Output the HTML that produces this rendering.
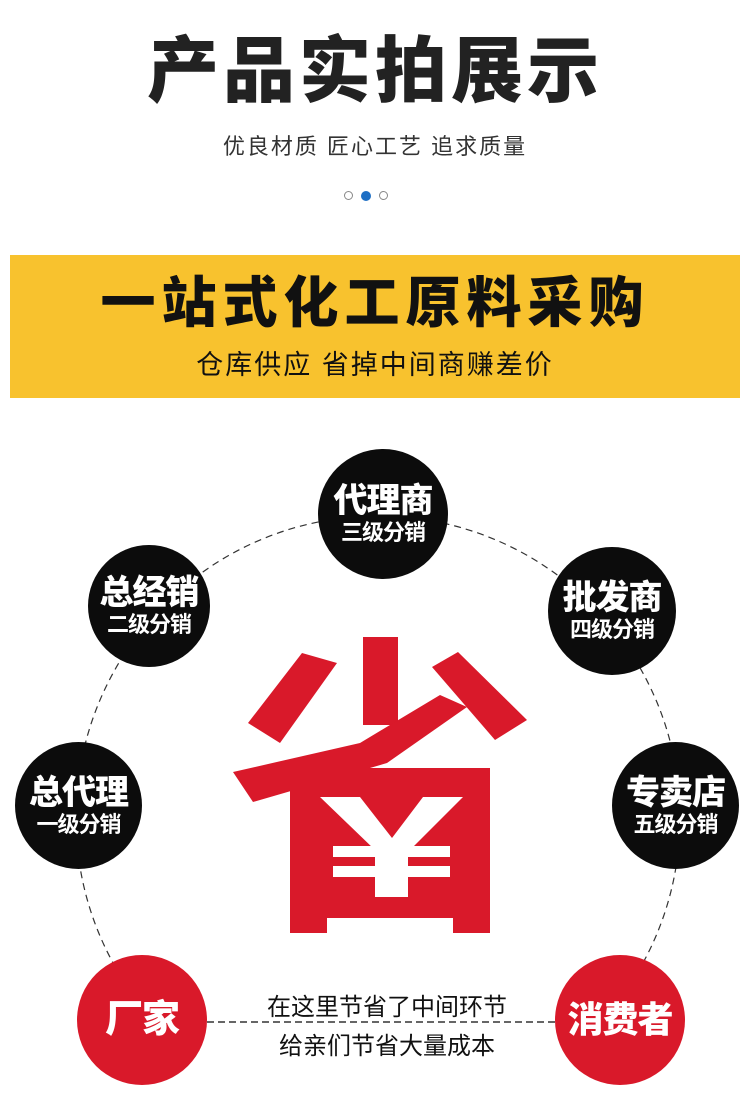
<!DOCTYPE html>
<html><head><meta charset="utf-8"><style>
html,body{margin:0;padding:0;background:#fff;}
body{width:750px;height:1100px;position:relative;overflow:hidden;font-family:"Liberation Sans","Noto Sans CJK SC",sans-serif;}
.a{position:absolute;left:0;width:750px;text-align:center;white-space:nowrap;}
.c{position:absolute;border-radius:50%;color:#fff;text-align:center;display:flex;flex-direction:column;justify-content:center;align-items:center;font-weight:900;}
.c b{font-size:34px;line-height:38px;letter-spacing:-1px;}
.c span{font-size:22px;line-height:26px;font-weight:700;letter-spacing:-1px;}
.k{background:#0c0c0c;}
.r{background:#d9192a;}
</style></head><body>
<div class="a" style="top:26px;font-size:72px;font-weight:900;line-height:92px;letter-spacing:4px;color:#222;">产品实拍展示</div>
<div class="a" style="top:132px;font-size:22px;line-height:30px;letter-spacing:2px;color:#333;">优良材质 匠心工艺 追求质量</div>
<div style="position:absolute;top:191px;left:344px;width:9px;height:9px;border:1px solid #888;border-radius:50%;box-sizing:border-box;"></div>
<div style="position:absolute;top:191px;left:361px;width:10px;height:10px;background:#1e6fc4;border-radius:50%;"></div>
<div style="position:absolute;top:191px;left:379px;width:9px;height:9px;border:1px solid #888;border-radius:50%;box-sizing:border-box;"></div>
<div style="position:absolute;top:255px;left:10px;width:730px;height:143px;background:#f8c22e;"></div>
<div class="a" style="top:268px;font-size:55px;font-weight:900;line-height:70px;letter-spacing:6px;color:#111;">一站式化工原料采购</div>
<div class="a" style="top:346px;font-size:27px;line-height:38px;letter-spacing:2px;color:#111;">仓库供应 省掉中间商赚差价</div>
<svg style="position:absolute;left:0;top:0" width="750" height="1100">
<defs><clipPath id="cp"><rect x="0" y="0" width="750" height="990"/></clipPath></defs>
<circle cx="378" cy="818" r="302" fill="none" stroke="#333" stroke-width="1.2" stroke-dasharray="7,5" clip-path="url(#cp)"/>
<line x1="207" y1="1022" x2="555" y2="1022" stroke="#333" stroke-width="1.5" stroke-dasharray="7,4"/>
<g fill="#d9192a">
<polygon points="302,653 337,663 280,743 248,723"/>
<rect x="363" y="637" width="35" height="88"/>
<polygon points="432,667 458,652 527,720 495,740"/>
<polygon points="233,772 360,743 440,695 467,707 387,763 253,802"/>
<polygon points="290,768 490,768 490,933 453,933 453,918 327,918 327,933 290,933"/>
</g>
<g fill="#fff">
<polygon points="320,797 360,797 392,838 423,797 463,797 410,850 375,850"/>
<rect x="333" y="846" width="117" height="11"/>
<rect x="333" y="866" width="117" height="11"/>
<rect x="375" y="845" width="33" height="52"/>
</g>
</svg>
<div class="c k" style="left:318px;top:449px;width:130px;height:130px;"><b>代理商</b><span>三级分销</span></div>
<div class="c k" style="left:88px;top:545px;width:122px;height:122px;"><b>总经销</b><span>二级分销</span></div>
<div class="c k" style="left:548px;top:547px;width:128px;height:128px;"><b>批发商</b><span>四级分销</span></div>
<div class="c k" style="left:15px;top:742px;width:127px;height:127px;"><b>总代理</b><span>一级分销</span></div>
<div class="c k" style="left:612px;top:742px;width:127px;height:127px;"><b>专卖店</b><span>五级分销</span></div>
<div class="c r" style="left:77px;top:955px;width:130px;height:130px;"><b style="font-size:38px">厂家</b></div>
<div class="c r" style="left:555px;top:955px;width:130px;height:130px;"><b style="font-size:36px">消费者</b></div>
<div class="a" style="top:992px;font-size:24px;line-height:32px;color:#111;left:12px;">在这里节省了中间环节</div>
<div class="a" style="top:1031px;font-size:24px;line-height:32px;color:#111;left:12px;">给亲们节省大量成本</div>
</body></html>
